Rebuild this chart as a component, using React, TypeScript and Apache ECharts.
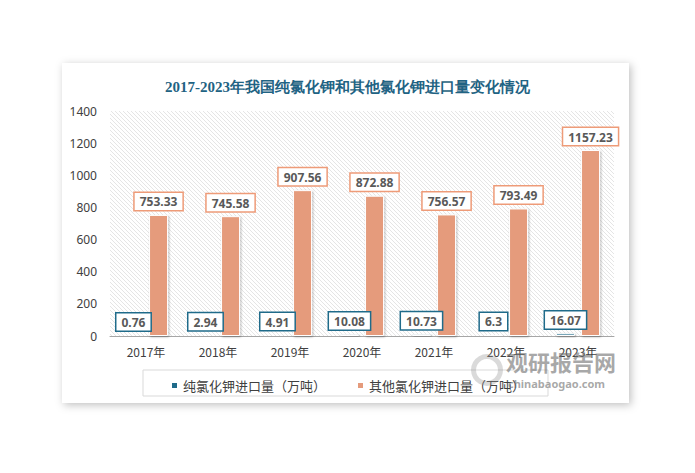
import React, { useEffect, useRef } from "react";
import * as echarts from "echarts";

const categories = ["2017年", "2018年", "2019年", "2020年", "2021年", "2022年", "2023年"];
const pureKCl = [0.76, 2.94, 4.91, 10.08, 10.73, 6.3, 16.07];
const otherKCl = [753.33, 745.58, 907.56, 872.88, 756.57, 793.49, 1157.23];
const seriesNames = ["纯氯化钾进口量（万吨）", "其他氯化钾进口量（万吨）"];
const titleText = "2017-2023年我国纯氯化钾和其他氯化钾进口量变化情况";

const BLUE = "#1F6B8A";
const ORANGE = "#E59B7C";

const hatchSvg =
  "<svg xmlns='http://www.w3.org/2000/svg' width='4' height='4'>" +
  "<path d='M-1,-1 L5,5 M-1,3 L1,5 M3,-1 L5,1' stroke='#dedede' stroke-width='0.8'/></svg>";
const hatchUrl = "data:image/svg+xml;charset=utf-8," + encodeURIComponent(hatchSvg);

export default function App() {
  const ref = useRef<HTMLDivElement>(null);
  useEffect(() => {
    document.body.style.margin = "0";
    const chart = echarts.init(ref.current!, null, { renderer: "svg" });
    const labelCommon = {
      show: true,
      position: "top" as const,
      distance: 5,
      backgroundColor: "#ffffff",
      borderWidth: 1.5,
      padding: [3, 5, 2, 5],
      color: "#595959",
      fontSize: 12,
      fontWeight: "bold" as const,
      fontFamily: "Noto Sans, sans-serif",
    };
    chart.setOption({
      animation: false,
      backgroundColor: "#ffffff",
      title: {
        text: titleText,
        left: "center",
        top: 74,
        textStyle: {
          color: "#1F6383",
          fontSize: 15,
          fontWeight: "bold",
          fontFamily: "serif",
        },
      },
      graphic: [
        {
          type: "rect",
          z: -10,
          shape: { x: 62, y: 63, width: 567, height: 340 },
          style: {
            fill: "#ffffff",
            shadowBlur: 8,
            shadowColor: "rgba(0,0,0,0.25)",
            shadowOffsetX: 2,
            shadowOffsetY: 2,
          },
        },
        {
          type: "rect",
          z: 10,
          shape: { x: 143, y: 370, width: 405, height: 26 },
          style: { fill: "none", stroke: "#d9d9d9", lineWidth: 1 },
        },
        {
          type: "ring",
          z: 20,
          shape: { cx: 487, cy: 370, r: 16, r0: 11 },
          style: { fill: "rgba(150,150,150,0.35)" },
        },
        {
          type: "text",
          z: 20,
          style: {
            x: 506,
            y: 350,
            text: "观研报告网",
            fill: "rgba(110,110,110,0.6)",
            fontSize: 22,
            fontWeight: "bold",
            fontFamily: "Noto Sans CJK SC",
          },
        },
        {
          type: "text",
          z: 20,
          style: {
            x: 508,
            y: 378,
            text: "chinabaogao.com",
            fill: "rgba(110,110,110,0.6)",
            fontSize: 11,
            fontWeight: "bold",
            fontFamily: "Noto Sans",
          },
        },
      ],
      legend: {
        data: seriesNames,
        top: 374,
        left: "center",
        itemWidth: 7,
        itemHeight: 7,
        itemGap: 30,
        icon: "rect",
        textStyle: { color: "#404040", fontSize: 13, fontFamily: "Noto Sans CJK SC" },
      },
      grid: {
        left: 110,
        right: 81,
        top: 111,
        bottom: 137,
        show: true,
        borderWidth: 0,
        backgroundColor: { image: hatchUrl, repeat: "repeat" },
      },
      xAxis: {
        type: "category",
        data: categories,
        axisLine: { lineStyle: { color: "#a6a6a6", width: 1 } },
        axisTick: { show: false },
        axisLabel: { color: "#404040", fontSize: 12, margin: 9, fontFamily: "Noto Sans CJK SC" },
      },
      yAxis: {
        type: "value",
        min: 0,
        max: 1400,
        interval: 200,
        splitLine: { show: false },
        axisLine: { show: false },
        axisTick: { show: false },
        axisLabel: {
          color: "#404040",
          fontSize: 12,
          margin: 13,
          fontFamily: "Noto Sans",
          formatter: (v: number) => String(v),
        },
      },
      series: [
        {
          name: seriesNames[0],
          type: "bar",
          data: pureKCl,
          barWidth: 19,
          barGap: "32%",
          itemStyle: {
            color: BLUE,
            borderColor: "#ffffff",
            borderWidth: 1,
            shadowBlur: 2,
            shadowColor: "rgba(0,0,0,0.3)",
            shadowOffsetX: 1,
            shadowOffsetY: 1,
          },
          label: { ...labelCommon, borderColor: BLUE },
        },
        {
          name: seriesNames[1],
          type: "bar",
          data: otherKCl,
          barWidth: 19,
          itemStyle: {
            color: ORANGE,
            borderColor: "#ffffff",
            borderWidth: 1,
            shadowBlur: 2,
            shadowColor: "rgba(0,0,0,0.3)",
            shadowOffsetX: 1,
            shadowOffsetY: 1,
          },
          label: { ...labelCommon, borderColor: "#EE9B78" },
        },
      ],
    });
    return () => chart.dispose();
  }, []);
  return <div ref={ref} style={{ width: 695, height: 473 }} />;
}
